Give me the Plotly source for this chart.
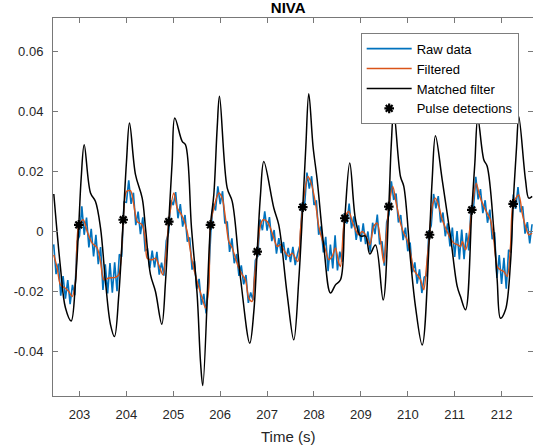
import numpy as np
import plotly.graph_objects as go

# ---- Filtered signal (time s, value) ----
filt_t = [202.452, 202.525, 202.595, 202.701, 202.772, 202.844, 202.915, 202.985, 203.079, 203.164,
          203.271, 203.377, 203.448, 203.518, 203.625, 203.768, 203.838, 203.910, 203.932, 204.002,
          204.087, 204.158, 204.230, 204.337, 204.407, 204.443, 204.550, 204.620, 204.691, 204.776,
          204.855, 204.904, 205.011, 205.083, 205.154, 205.224, 205.296, 205.403, 205.510, 205.616,
          205.687, 205.757, 205.793, 205.900, 205.970, 206.043, 206.113, 206.183, 206.256, 206.326,
          206.397, 206.469, 206.539, 206.610, 206.682, 206.731, 206.789, 206.859, 206.917, 207.002,
          207.072, 207.143, 207.215, 207.286, 207.356, 207.463, 207.535, 207.655, 207.712, 207.761,
          207.868, 207.940, 208.032, 208.102, 208.175, 208.245, 208.316, 208.388, 208.458, 208.529,
          208.565, 208.657, 208.742, 208.815, 208.885, 208.955, 209.028, 209.098, 209.190, 209.275,
          209.348, 209.418, 209.488, 209.546, 209.595, 209.680, 209.753, 209.844, 209.915, 209.987,
          210.058, 210.128, 210.200, 210.271, 210.341, 210.399, 210.463, 210.520, 210.590, 210.663,
          210.734, 210.807, 210.914, 210.984, 211.057, 211.127, 211.164, 211.234, 211.301, 211.365,
          211.459, 211.535, 211.621, 211.693, 211.763, 211.834, 211.906, 211.977, 212.047, 212.119,
          212.190, 212.247, 212.367, 212.439, 212.510, 212.580, 212.652]
filt_y = [-0.0078, -0.0122, -0.0178, -0.0189, -0.0200, -0.0217, -0.0167, 0.0022, 0.0039, 0.0000,
          -0.0039, -0.0055, -0.0100, -0.0161, -0.0155, -0.0153, -0.0144, -0.0033, 0.0039, 0.0133,
          0.0136, 0.0089, 0.0033, 0.0022, -0.0033, -0.0089, -0.0094, -0.0089, -0.0111, -0.0144,
          -0.0055, 0.0033, 0.0128, 0.0078, 0.0061, 0.0039, 0.0000, -0.0100, -0.0167, -0.0222,
          -0.0255, -0.0189, 0.0022, 0.0100, 0.0128, 0.0111, 0.0044, -0.0033, -0.0055, -0.0089,
          -0.0122, -0.0144, -0.0161, -0.0222, -0.0233, -0.0155, -0.0067, 0.0022, 0.0039, 0.0033,
          0.0011, -0.0022, -0.0050, -0.0044, -0.0061, -0.0083, -0.0072, -0.0100, 0.0006, 0.0081,
          0.0183, 0.0161, 0.0094, 0.0017, -0.0028, -0.0061, -0.0094, -0.0083, -0.0055, -0.0105,
          -0.0117, 0.0044, 0.0067, 0.0033, 0.0006, -0.0011, 0.0000, -0.0011, -0.0044, 0.0017,
          0.0028, -0.0028, -0.0105, -0.0006, 0.0083, 0.0150, 0.0094, 0.0028, -0.0006, -0.0028,
          -0.0072, -0.0128, -0.0144, -0.0161, -0.0194, -0.0117, -0.0011, 0.0083, 0.0111, 0.0083,
          0.0039, 0.0011, -0.0025, -0.0039, -0.0044, -0.0050, -0.0033, -0.0061, -0.0017, 0.0072,
          0.0161, 0.0117, 0.0083, 0.0061, 0.0039, -0.0028, -0.0117, -0.0128, -0.0133, -0.0150,
          -0.0050, 0.0092, 0.0122, 0.0061, 0.0017, -0.0011, -0.0006]

# ---- Raw data, sampled every 0.05 s from 202.45 s ----
raw_start = 202.45
raw_step = 0.05
raw_y = [-0.0043, -0.0142, -0.0107, -0.0214, -0.0149, -0.0224, -0.0162, -0.0242, -0.0178, -0.0212,
         -0.0032, -0.0015, 0.0084, -0.0011, 0.0046, -0.0053, 0.0009, -0.0083, -0.0011, -0.0109,
         -0.0052, -0.0195, -0.0109, -0.0206, -0.0105, -0.0204, -0.0103, -0.0199, -0.0076, -0.0084,
         0.0098, 0.0097, 0.0170, 0.0092, 0.0129, 0.0021, 0.0066, -0.0009, 0.0047, -0.0063,
         -0.0059, -0.0122, -0.0064, -0.0120, -0.0068, -0.0144, -0.0104, -0.0147, -0.0031, -0.0004,
         0.0104, 0.0088, 0.0131, 0.0044, 0.0091, 0.0016, 0.0055, -0.0034, -0.0020, -0.0127,
         -0.0099, -0.0191, -0.0158, -0.0244, -0.0208, -0.0273, -0.0166, -0.0003, 0.0093, 0.0070,
         0.0150, 0.0091, 0.0134, 0.0027, 0.0033, -0.0068, -0.0023, -0.0106, -0.0075, -0.0148,
         -0.0113, -0.0176, -0.0145, -0.0238, -0.0203, -0.0229, -0.0096, -0.0083, 0.0040, 0.0004,
         0.0067, 0.0003, 0.0048, -0.0032, 0.0005, -0.0074, -0.0022, -0.0072, -0.0035, -0.0095,
         -0.0055, -0.0102, -0.0051, -0.0112, -0.0074, -0.0046, 0.0094, 0.0088, 0.0196, 0.0143,
         0.0184, 0.0088, 0.0104, -0.0011, 0.0017, -0.0070, -0.0018, -0.0132, -0.0044, -0.0123,
         -0.0013, -0.0130, -0.0067, -0.0101, 0.0061, 0.0026, 0.0093, 0.0010, 0.0050, -0.0028,
         0.0020, -0.0034, 0.0027, -0.0042, 0.0000, -0.0067, 0.0029, -0.0009, 0.0056, -0.0043,
         -0.0033, -0.0114, 0.0031, 0.0057, 0.0167, 0.0105, 0.0126, 0.0030, 0.0055, -0.0029,
         0.0013, -0.0066, -0.0037, -0.0136, -0.0103, -0.0174, -0.0126, -0.0205, -0.0152, -0.0147,
         -0.0002, 0.0020, 0.0125, 0.0077, 0.0118, 0.0030, 0.0063, -0.0016, 0.0027, -0.0050,
         0.0013, -0.0085, 0.0001, -0.0093, 0.0006, -0.0092, -0.0005, -0.0063, 0.0081, 0.0075,
         0.0182, 0.0107, 0.0141, 0.0061, 0.0104, 0.0029, 0.0073, -0.0026, -0.0003, -0.0155,
         -0.0079, -0.0175, -0.0088, -0.0191, -0.0061, -0.0070, 0.0123, 0.0075, 0.0148, 0.0064,
         0.0084, -0.0007, 0.0031, -0.0040, 0.0024]
raw_t = raw_start + raw_step * np.arange(len(raw_y))

# ---- Matched filter output ----
mf_t = [202.452, 202.595, 202.700, 202.823, 202.915, 202.985, 203.036, 203.100, 203.235, 203.341,
        203.448, 203.554, 203.661, 203.746, 203.838, 203.932, 204.002, 204.066, 204.194, 204.337,
        204.407, 204.514, 204.620, 204.755, 204.834, 204.904, 204.976, 205.032, 205.190, 205.260,
        205.388, 205.509, 205.580, 205.629, 205.793, 205.864, 205.936, 205.985, 206.149, 206.256,
        206.433, 206.631, 206.717, 206.789, 206.859, 206.930, 207.143, 207.249, 207.429, 207.569,
        207.676, 207.761, 207.826, 207.889, 207.980, 208.068, 208.209, 208.352, 208.458, 208.565,
        208.657, 208.763, 208.885, 208.991, 209.098, 209.190, 209.311, 209.475, 209.595, 209.646,
        209.701, 209.844, 209.915, 210.058, 210.164, 210.307, 210.463, 210.520, 210.590, 210.734,
        210.911, 211.054, 211.124, 211.230, 211.365, 211.430, 211.493, 211.621, 211.693, 211.834,
        211.906, 211.977, 212.083, 212.190, 212.247, 212.320, 212.367, 212.510, 212.580, 212.652]
mf_y = [0.0125, -0.0121, -0.0254, -0.0298, -0.0167, 0.0022, 0.0178, 0.0289, 0.0128, 0.0100,
        0.0012, -0.0167, -0.0310, -0.0350, -0.0211, 0.0039, 0.0233, 0.0361, 0.0189, 0.0111,
        0.0012, -0.0144, -0.0200, -0.0309, -0.0167, 0.0033, 0.0233, 0.0378, 0.0300, 0.0289,
        0.0012, -0.0211, -0.0433, -0.0513, 0.0022, 0.0122, 0.0346, 0.0450, 0.0145, 0.0100,
        -0.0155, -0.0372, -0.0267, -0.0067, 0.0122, 0.0233, 0.0078, 0.0022, -0.0211, -0.0361,
        -0.0161, 0.0081, 0.0283, 0.0459, 0.0283, 0.0172, -0.0050, -0.0205, -0.0178, -0.0161,
        0.0044, 0.0228, 0.0040, -0.0015, -0.0015, -0.0075, -0.0045, -0.0228, 0.0083, 0.0283,
        0.0400, 0.0183, 0.0150, -0.0094, -0.0250, -0.0378, -0.0011, 0.0172, 0.0319, 0.0172,
        -0.0017, -0.0183, -0.0217, -0.0261, 0.0072, 0.0228, 0.0378, 0.0239, 0.0217, 0.0006,
        -0.0161, -0.0289, -0.0261, -0.0105, 0.0092, 0.0283, 0.0383, 0.0172, 0.0111, 0.0117]

# ---- Pulse detections ----
det_t = [202.985, 203.932, 204.904, 205.793, 206.789, 207.761, 208.657, 209.595, 210.463, 211.365, 212.247]
det_y = [0.0022, 0.0039, 0.0033, 0.0022, -0.0067, 0.0081, 0.0044, 0.0083, -0.0011, 0.0072, 0.0092]

# ---- Axis ticks ----
x_ticks = [203, 204, 205, 206, 207, 208, 209, 210, 211, 212]
y_ticks = [-0.04, -0.02, 0, 0.02, 0.04, 0.06]
y_ticktext = ["-0.04", "-0.02", "0", "0.02", "0.04", "0.06"]

FONT = "Liberation Sans, Arial, Helvetica, sans-serif"
AX = "rgb(38,38,38)"

fig = go.Figure()
fig.add_trace(go.Scatter(x=raw_t, y=raw_y, mode="lines", name="Raw data",
                         line=dict(color="#0072BD", width=1.6)))
fig.add_trace(go.Scatter(x=filt_t, y=filt_y, mode="lines", name="Filtered",
                         line=dict(color="#D95319", width=1.4, shape="spline", smoothing=0.8)))
fig.add_trace(go.Scatter(x=mf_t, y=mf_y, mode="lines", name="Matched filter",
                         line=dict(color="black", width=1.5, shape="spline", smoothing=1.0)))
fig.add_trace(go.Scatter(x=det_t, y=det_y, mode="markers", name="Pulse detections",
                         marker=dict(symbol="asterisk-open", size=8, color="black",
                                     line=dict(color="black", width=2.2))))

axis_common = dict(showline=True, linecolor="rgb(120,120,120)", linewidth=1, mirror="ticks",
                   ticks="inside", ticklen=5, tickwidth=1, tickcolor="rgb(120,120,120)",
                   showgrid=False, zeroline=False,
                   tickfont=dict(family=FONT, size=13, color=AX))

fig.update_layout(
    width=533, height=448,
    margin=dict(l=53, r=0, t=18, b=52),
    paper_bgcolor="white", plot_bgcolor="white",
    font=dict(family=FONT, color=AX),
    title=dict(text="<b>NIVA</b>", x=0.49, xref="paper", xanchor="center",
               y=0.982, yref="container", yanchor="middle",
               font=dict(family=FONT, size=15, color="black")),
    xaxis=dict(range=[202.435, 212.67], tickvals=x_ticks, ticklabelstandoff=6, **axis_common),
    yaxis=dict(range=[-0.0548, 0.0711], tickvals=y_ticks, ticktext=y_ticktext,
               ticklabelstandoff=6, **axis_common),
    legend=dict(x=0.971, xanchor="right", y=0.96, yanchor="top",
                bgcolor="white", bordercolor="rgb(38,38,38)", borderwidth=0.6,
                itemwidth=45,
                font=dict(family=FONT, size=13, color="black"), tracegroupgap=0),
    showlegend=True,
)
fig.add_annotation(text="Time (s)", xref="paper", yref="paper", x=0.49, y=-0.106,
                   xanchor="center", yanchor="middle", showarrow=False,
                   font=dict(family=FONT, size=15, color=AX))

fig.write_html("out.html", config={"displayModeBar": False},
               post_script="document.body.style.margin='0px';document.body.style.overflow='hidden';")
